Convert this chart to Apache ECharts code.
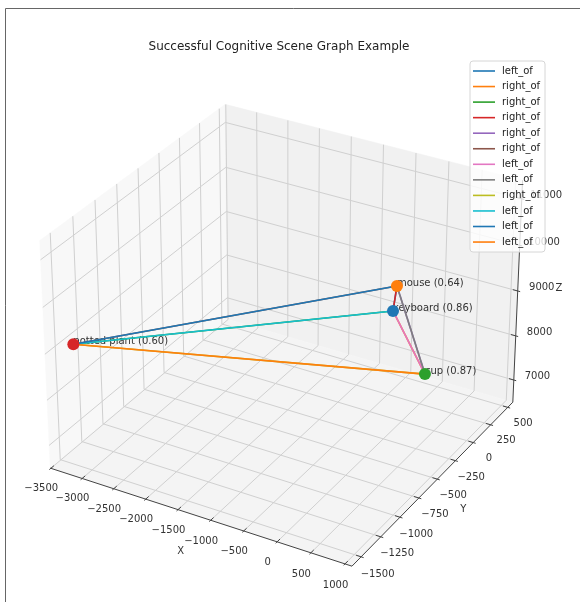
<!DOCTYPE html>
<html><head><meta charset="utf-8">
<script src="https://cdn.jsdelivr.net/npm/echarts@6/dist/echarts.min.js"></script>
<style>html,body{margin:0;padding:0;background:#fff}#c{width:580px;height:602px}</style>
</head><body><div id="c"></div>
<script>
// ---------------- data ----------------
const nodeNames  = ['keyboard', 'mouse', 'cup', 'potted plant'];
const nodeScores = [0.86, 0.64, 0.87, 0.60];
const nodeX = [409, 1009, -228, -3418];
const nodeY = [-522, -1022, 531, -1365];
const nodeZ = [9898, 11390, 6638, 8873];

const edgeFrom = [0, 0, 0, 1, 1, 1, 2, 2, 2, 3, 3, 3];
const edgeTo   = [1, 2, 3, 0, 2, 3, 0, 1, 3, 0, 1, 2];
const edgeRel  = ['left_of', 'right_of', 'right_of', 'right_of', 'right_of', 'right_of',
                  'left_of', 'left_of', 'right_of', 'left_of', 'left_of', 'left_of'];

const xTicks = [-3500, -3000, -2500, -2000, -1500, -1000, -500, 0, 500, 1000];
const yTicks = [-1500, -1250, -1000, -750, -500, -250, 0, 250, 500];
const zTicks = [7000, 8000, 9000, 10000, 11000];

// extent of the drawn 3D box (axis limits incl. padding)
const xRange = [-3511, 1101];
const yRange = [-1615, 575];
const zRange = [6491, 11397];

const titleText = 'Successful Cognitive Scene Graph Example';
const palette = ['#1f77b4', '#ff7f0e', '#2ca02c', '#d62728', '#9467bd',
                 '#8c564b', '#e377c2', '#7f7f7f', '#bcbd22', '#17becf'];

// ---------------- 3D projection (matplotlib default view) ----------------
const ELEV = 30, AZIM = -60, DIST = 10;
const nrm = Math.hypot(4, 4, 3);
const BA = [4, 4, 3].map(v => v * 1.8294640721620434 / nrm);
const RC = BA.map(v => v / 2);
const er = ELEV * Math.PI / 180, ar = AZIM * Math.PI / 180;
const PS = [Math.cos(er) * Math.cos(ar), Math.cos(er) * Math.sin(ar), Math.sin(er)];
const EYE = RC.map((r, i) => r + DIST * PS[i]);
const dot = (a, b) => a[0] * b[0] + a[1] * b[1] + a[2] * b[2];
const cross = (a, b) => [a[1] * b[2] - a[2] * b[1], a[2] * b[0] - a[0] * b[2], a[0] * b[1] - a[1] * b[0]];
const unit = a => { const n = Math.hypot(a[0], a[1], a[2]); return a.map(v => v / n); };
const VW = unit(PS);
const VU = unit(cross([0, 0, 1], VW));
const VV = cross(VW, VU);
function world(x, y, z) {
  return [(x - xRange[0]) / (xRange[1] - xRange[0]) * BA[0],
          (y - yRange[0]) / (yRange[1] - yRange[0]) * BA[1],
          (z - zRange[0]) / (zRange[1] - zRange[0]) * BA[2]];
}
function proj(x, y, z) {
  const p = world(x, y, z);
  const q = [p[0] - EYE[0], p[1] - EYE[1], p[2] - EYE[2]];
  const d = -dot(VW, q);
  return [dot(VU, q) / d, dot(VV, q) / d];
}

// ---------------- layout ----------------
const CX = 285.6, CY = 324.6, SC = 3026, WIDTH = 580, HEIGHT = 602;
const [x0, x1] = xRange, [y0, y1] = yRange, [z0, z1] = zRange;
const PADF = 1 + 1 / 24;
const xl = (x1 - x0) / PADF, yl = (y1 - y0) / PADF, zl = (z1 - z0) / PADF;
const KT = 0.055, KA = 0.095;
const TXT = '#333';
const FONT = '10px "DejaVu Sans"';

function customSeries(items, z) {
  return {
    type: 'custom', z, silent: true, clip: false,
    data: items.map((_, i) => [0, 0, i]),
    renderItem: (params, api) => items[params.dataIndex](api)
  };
}
const poly = (pts, fill) => api => ({ type: 'polygon',
  shape: { points: pts.map(p => api.coord(proj(...p))) }, style: { fill: fill, stroke: fill, lineWidth: 0.5 } });
const pline = (pts, color, w) => api => ({ type: 'polyline',
  shape: { points: pts.map(p => api.coord(proj(...p))) }, style: { stroke: color, lineWidth: w, fill: null } });
const txt = (p, text, align, vAlign, font, dx, dy) => api => {
  const c = api.coord(proj(...p));
  return { type: 'text', x: c[0] + (dx || 0), y: c[1] + (dy || 0),
    style: { text, fill: TXT, font: font || FONT, align, verticalAlign: vAlign } };
};

// panes
const panes = [
  poly([[x0, y0, z0], [x0, y1, z0], [x0, y1, z1], [x0, y0, z1]], '#f8f8f8'),
  poly([[x0, y1, z0], [x1, y1, z0], [x1, y1, z1], [x0, y1, z1]], '#f1f1f1'),
  poly([[x0, y0, z0], [x1, y0, z0], [x1, y1, z0], [x0, y1, z0]], '#f4f4f4')
];
// gridlines
const GRID = '#d0d0d0';
const grids = [];
xTicks.forEach(t => grids.push(pline([[t, y0, z0], [t, y1, z0], [t, y1, z1]], GRID, 1)));
yTicks.forEach(t => grids.push(pline([[x1, t, z0], [x0, t, z0], [x0, t, z1]], GRID, 1)));
zTicks.forEach(t => grids.push(pline([[x0, y0, t], [x0, y1, t], [x1, y1, t]], GRID, 1)));
// axes, ticks, labels
const AX = '#444';
const axes = [
  pline([[x0, y0, z0], [x1, y0, z0]], AX, 1),
  pline([[x1, y0, z0], [x1, y1, z0]], AX, 1),
  pline([[x1, y1, z0], [x1, y1, z1]], AX, 1)
];
const dxT = xl / 12, dyT = yl / 12;
xTicks.forEach(t => {
  axes.push(pline([[t, y0 + 0.2 * dyT, z0], [t, y0 - 0.1 * dyT, z0]], AX, 1));
  axes.push(txt([t, y0 - KT * yl, z0 - KT * zl], String(t).replace('-', '\u2212'), 'center', 'middle'));
});
yTicks.forEach(t => {
  axes.push(pline([[x1 - 0.2 * dxT, t, z0], [x1 + 0.1 * dxT, t, z0]], AX, 1));
  axes.push(txt([x1 + KT * xl, t, z0 - KT * zl], String(t).replace('-', '\u2212'), 'center', 'middle'));
});
zTicks.forEach(t => {
  axes.push(pline([[x1 - 0.2 * dxT, y1, t], [x1 + 0.1 * dxT, y1, t]], AX, 1));
  axes.push(txt([x1 + KT * xl, y1 + KT * yl, t], String(t), 'center', 'middle'));
});
axes.push(txt([(x0 + x1) / 2, y0 - KA * yl, z0 - KA * zl], 'X', 'center', 'middle'));
axes.push(txt([x1 + KA * xl, (y0 + y1) / 2, z0 - KA * zl], 'Y', 'center', 'middle'));
axes.push(txt([x1 + KA * xl, y1 + KA * yl, (z0 + z1) / 2], 'Z', 'center', 'middle'));

// node labels
const nodeLabels = nodeNames.map((n, i) =>
  txt([nodeX[i], nodeY[i], nodeZ[i]], n + ' (' + nodeScores[i].toFixed(2) + ')', 'left', 'bottom', FONT, 0, 2));

// edges
const edgeSeries = edgeFrom.map((f, i) => ({
  type: 'line', z: 5, silent: true, symbol: 'none', clip: false,
  data: [proj(nodeX[f], nodeY[f], nodeZ[f]), proj(nodeX[edgeTo[i]], nodeY[edgeTo[i]], nodeZ[edgeTo[i]])],
  lineStyle: { color: palette[i % 10], width: 1.6 }
}));

// nodes
const nodeSeries = {
  type: 'scatter', z: 6, silent: true, symbolSize: 12,
  data: nodeNames.map((n, i) => ({ value: proj(nodeX[i], nodeY[i], nodeZ[i]), itemStyle: { color: palette[i % 10], opacity: 1 } }))
};

// legend (graphic)
const LG = { left: 470, top: 61, w: 75, h: 191, first: 71, step: 15.55 };
const legendChildren = [{ type: 'rect', z: 100, shape: { x: LG.left, y: LG.top, width: LG.w, height: LG.h, r: 3 },
  style: { fill: 'rgba(255,255,255,0.8)', stroke: '#d6d6d6', lineWidth: 1 } }];
edgeRel.forEach((r, i) => {
  const yy = LG.first + i * LG.step;
  legendChildren.push({ type: 'line', z: 101, shape: { x1: 473, y1: yy, x2: 495, y2: yy }, style: { stroke: palette[i % 10], lineWidth: 1.6 } });
  legendChildren.push({ type: 'text', z: 101, x: 502, y: yy, style: { text: r, fill: '#222', font: FONT, verticalAlign: 'middle', align: 'left' } });
});

const option = {
  animation: false,
  backgroundColor: '#fff',
  title: { text: titleText, left: 279, top: 41, textAlign: 'center', padding: 0,
    textStyle: { fontSize: 12, fontWeight: 'normal', fontFamily: 'DejaVu Sans', color: '#222' } },
  grid: { left: 0, right: 0, top: 0, bottom: 0 },
  xAxis: { type: 'value', min: -CX / SC, max: (WIDTH - CX) / SC, show: false },
  yAxis: { type: 'value', min: -(HEIGHT - CY) / SC, max: CY / SC, show: false },
  graphic: [
    { type: 'rect', z: 50, silent: true, shape: { x: 5.5, y: 8.5, width: 700, height: 700 }, style: { fill: null, stroke: '#666', lineWidth: 1 } },
    { type: 'group', z: 100, silent: true, children: legendChildren }
  ],
  series: [
    customSeries(panes, 1),
    customSeries(grids, 2),
    customSeries(axes, 3),
    customSeries(nodeLabels, 4),
    ...edgeSeries,
    nodeSeries
  ]
};
const chart = echarts.init(document.getElementById('c'));
chart.setOption(option);
</script>
</body></html>
